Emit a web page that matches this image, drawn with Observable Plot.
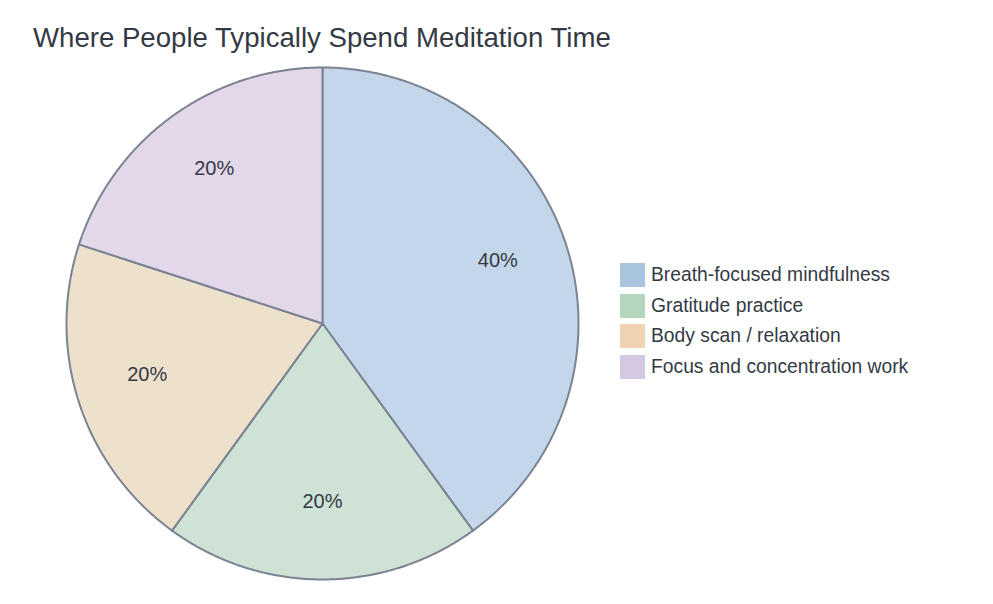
<!DOCTYPE html>
<html>
<head>
<meta charset="utf-8">
<script src="https://cdn.jsdelivr.net/npm/d3@7"></script>
<script src="https://cdn.jsdelivr.net/npm/@observablehq/plot@0.6"></script>
<style>
  html, body { margin: 0; padding: 0; background: #fff; }
  body { width: 993px; height: 604px; position: relative; overflow: hidden;
         font-family: "Liberation Sans", Arial, Helvetica, sans-serif; color: #333a44; }
  #title { position: absolute; left: 33px; top: 20px; font-size: 27.6px; line-height: 36px; color: #333a44; white-space: nowrap; }
  #chart { position: absolute; left: 0; top: 60px; }
  #legend { position: absolute; left: 620px; top: 260px; }
  .row { display: flex; align-items: center; height: 30.5px; }
  .sw { width: 25px; height: 24px; margin-right: 6px; }
  .lab { font-size: 19.3px; color: #333a44; white-space: nowrap; }
</style>
</head>
<body>
<div id="title"></div>
<div id="chart"></div>
<div id="legend"></div>
<script>
const titleText = "Where People Typically Spend Meditation Time";
const categories = ["Breath-focused mindfulness", "Gratitude practice", "Body scan / relaxation", "Focus and concentration work"];
const values = [40, 20, 20, 20];
const swatchColors = ["#a8c4df", "#b3d6bd", "#f0d2b2", "#d5c8e2"];
const sliceColors = ["#c4d7ea", "#cfe2d6", "#ede1cb", "#e3d7ea"];

document.getElementById("title").textContent = titleText;

const total = d3.sum(values);
const pie = d3.pie().sort(null).value(d => d)(values);

// polygon points for each slice (angles from data, clockwise from top)
const pts = [];
const labels = [];
pie.forEach((p, i) => {
  const cat = categories[i];
  pts.push({cat, x: 0, y: 0});
  const n = 200;
  for (let j = 0; j <= n; j++) {
    const a = p.startAngle + (p.endAngle - p.startAngle) * j / n;
    pts.push({cat, x: Math.sin(a), y: Math.cos(a)});
  }
  pts.push({cat, x: 0, y: 0});
  const m = (p.startAngle + p.endAngle) / 2;
  labels.push({cat, x: 0.72 * Math.sin(m), y: 0.72 * Math.cos(m),
               text: Math.round(values[i] / total * 100) + "%"});
});

const chart = Plot.plot({
  width: 993,
  height: 544,
  marginLeft: 66,
  marginRight: 415,
  marginTop: 7,
  marginBottom: 25,
  x: {domain: [-1, 1], axis: null},
  y: {domain: [-1, 1], axis: null},
  color: {domain: categories, range: sliceColors},
  style: {fontFamily: "Liberation Sans, Arial, sans-serif", background: "transparent"},
  marks: [
    Plot.line(pts, {x: "x", y: "y", z: "cat", fill: "cat",
                    stroke: "#7b8393", strokeWidth: 2, strokeLinejoin: "round"}),
    Plot.text(labels, {x: "x", y: "y", text: "text", fontSize: 20, fill: "#333a44", dy: -6})
  ]
});
document.getElementById("chart").appendChild(chart);

const leg = document.getElementById("legend");
categories.forEach((c, i) => {
  const row = document.createElement("div");
  row.className = "row";
  const sw = document.createElement("div");
  sw.className = "sw";
  sw.style.background = swatchColors[i];
  const lab = document.createElement("div");
  lab.className = "lab";
  lab.textContent = c;
  row.appendChild(sw); row.appendChild(lab);
  leg.appendChild(row);
});
</script>
</body>
</html>
